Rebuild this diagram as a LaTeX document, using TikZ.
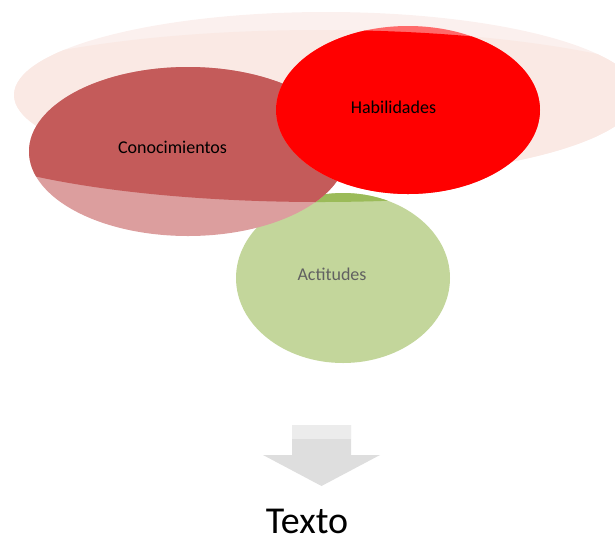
\documentclass[tikz,border=0pt]{standalone}
\usepackage{fontspec}
\setmainfont{Carlito}
\definecolor{pinkL}{HTML}{FBF0EE}
\definecolor{pinkD}{HTML}{FAE9E4}
\definecolor{conoD}{HTML}{C45B5A}
\definecolor{conoL}{HTML}{DC9E9E}
\definecolor{habD}{HTML}{FF0000}
\definecolor{habL}{HTML}{FF6A6A}
\definecolor{actD}{HTML}{9BBB59}
\definecolor{actL}{HTML}{C3D69B}
\definecolor{arrD}{HTML}{DEDEDE}
\definecolor{arrL}{HTML}{ECECEC}
\tikzset{
  lbl/.style={anchor=base, inner sep=0pt, font=\fontsize{18}{20}\selectfont},
}
\begin{document}
\begin{tikzpicture}[x=1pt,y=-1pt]
\useasboundingbox (0,0) rectangle (615,539);
\clip (0,0) rectangle (615,539);
\def\innerreg{(320,116) ellipse [x radius=400, y radius=86]}
% big background ellipse
\fill[pinkL] (326,95) ellipse [x radius=312, y radius=83];
\begin{scope}
  \clip \innerreg;
  \fill[pinkD] (326,95) ellipse [x radius=312, y radius=83];
\end{scope}
% Actitudes
\fill[actL] (343,278) ellipse [x radius=107, y radius=85];
\begin{scope}
  \clip \innerreg;
  \fill[actD] (343,278) ellipse [x radius=107, y radius=85];
\end{scope}
% Conocimientos
\fill[conoL] (188,151.5) ellipse [x radius=159, y radius=84.5];
\begin{scope}
  \clip \innerreg;
  \fill[conoD] (188,151.5) ellipse [x radius=159, y radius=84.5];
\end{scope}
% Habilidades
\fill[habL] (408,110) ellipse [x radius=132, y radius=84];
\begin{scope}
  \clip \innerreg;
  \fill[habD] (408,110) ellipse [x radius=132, y radius=84];
\end{scope}
% labels
\node[lbl, text=black] (cono) at (172.5,153) {Conocimientos};
\node[lbl, text=black] (hab) at (393.5,113) {Habilidades};
\node[lbl, text=black!62] (act) at (332,280) {Actitudes};
% arrow
\fill[arrD] (292,425) -- (351,425) -- (351,455) -- (380,455) -- (321.5,486) -- (263,455) -- (292,455) -- cycle;
\fill[arrL] (292,425) rectangle (351,439);
\node[anchor=base, inner sep=0pt, font=\fontsize{38}{40}\selectfont, text=black] (texto) at (307,533) {Texto};
\end{tikzpicture}
\end{document}
